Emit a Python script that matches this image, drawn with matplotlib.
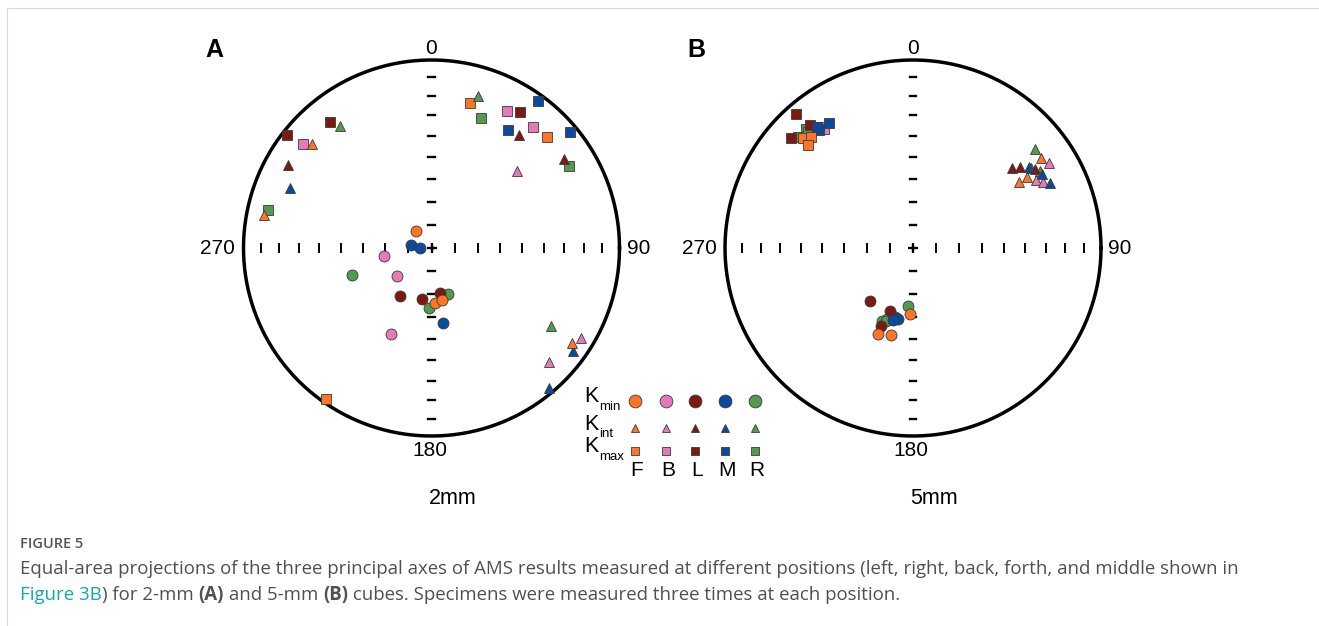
import numpy as np
import matplotlib.pyplot as plt

plt.rcParams['font.family'] = ['Liberation Sans', 'DejaVu Sans']

positions = ['F', 'B', 'L', 'M', 'R']
colors = ['#ff7526', '#e47ab8', '#7c1a12', '#0b4a9f', '#519a4f']
draw_order = [1, 4, 2, 3, 0]  # B, R, L, M, F

# 2-mm cube (A): declination / inclination (deg), three runs per position F, B, L, M, R
a_kmax_dec = [[15, 46, 215], [309, 29, 40], [321, 308, 33], [36, 33, 50], [283, 21, 59]]
a_kmax_inc = [[21, 16, 2], [13, 18, 17], [15, 2.5, 15], [4, 26, 4.5], [12, 27, 16]]
a_kint_dec = [[311, 281, 124], [48, 121, 134], [300, 38, 56], [293, 126, 140], [323, 17, 123]]
a_kint_inc = [[17, 10, 10.5], [38.5, 8, 14], [13, 25, 16], [19.5, 8, 3], [20, 16.5, 25]]
a_kmin_dec = [[318, 176, 169], [261, 231, 205], [213, 191, 169], [278, 268, 171], [251, 160, 182]]
a_kmin_inc = [[80, 66, 67], [69, 71, 48], [65, 67.5, 70], [81, 85, 57], [53, 69, 64]]

# 5-mm cube (B)
b_kmax_dec = [[315, 317.5, 314.5], [322, 323, 321], [319, 320, 312], [326, 321.5, 321.5], [318, 314, 318]]
b_kmax_inc = [[18.5, 21, 23], [19.5, 22, 18.5], [6, 16, 14], [21, 21, 19], [16, 16, 18]]
b_kint_dec = [[55, 58, 58], [58, 61, 63], [51, 53, 57], [55, 60, 64.5], [51, 56, 59]]
b_kint_inc = [[18, 29.5, 34], [16, 26, 23.5], [33, 29.5, 23.5], [25.5, 22, 20.5], [17.5, 25, 22]]
b_kmin_dec = [[183, 202, 194], [195, 196, 200], [219, 200, 202], [194, 192, 195.5], [185, 203, 200]]
b_kmin_inc = [[61, 49, 50.5], [59, 58, 57], [60, 61, 53], [58.5, 58.5, 57.5], [64.5, 55.5, 56]]

panels = [
    ('A', '2mm', 431.5, [(a_kmax_dec, a_kmax_inc, 's'), (a_kint_dec, a_kint_inc, '^'), (a_kmin_dec, a_kmin_inc, 'o')]),
    ('B', '5mm', 913.0, [(b_kmax_dec, b_kmax_inc, 's'), (b_kint_dec, b_kint_inc, '^'), (b_kmin_dec, b_kmin_inc, 'o')]),
]
marker_size = {'s': 7.3, '^': 7.4, 'o': 7.9}

W, H = 1319, 626
CY, RAD = 248.0, 188.0


def project(dec, inc):
    # equal-area (Schmidt), lower hemisphere
    d = np.radians(np.asarray(dec, dtype=float))
    r = np.sqrt(2) * np.sin(np.radians(90 - np.asarray(inc, dtype=float)) / 2)
    return r * np.sin(d), r * np.cos(d)


def draw_net(ax):
    t = np.linspace(0, 2 * np.pi, 500)
    ax.plot(np.cos(t), np.sin(t), color='black', lw=2.5, zorder=1)
    for p in range(10, 90, 10):
        r = np.sqrt(2) * np.sin(np.radians(90 - p) / 2)
        for s in (-1, 1):
            ax.plot([s * r, s * r], [-0.019, 0.019], color='black', lw=1.4, zorder=1)
            ax.plot([-0.017, 0.017], [s * r, s * r], color='black', lw=1.7, zorder=1)
    ax.plot(0, 0, marker='+', color='black', ms=7, mew=1.7, zorder=1)
    ax.set_xlim(-1.1, 1.1)
    ax.set_ylim(-1.1, 1.1)
    ax.set_aspect('equal')
    ax.axis('off')


fig = plt.figure(figsize=(W / 100, H / 100), dpi=100)

# overlay in pixel coordinates for labels, legend and caption
ov = fig.add_axes([0, 0, 1, 1])
ov.set_xlim(0, W)
ov.set_ylim(H, 0)
ov.axis('off')

half = 1.1 * RAD
for letter, size_lbl, cx, sets in panels:
    ax = fig.add_axes([(cx - half) / W, (H - CY - half) / H, 2 * half / W, 2 * half / H])
    ax.patch.set_alpha(0)
    draw_net(ax)
    for dec, inc, mk in sets:
        for i in draw_order:
            x, y = project(dec[i], inc[i])
            ax.plot(x, y, ls='none', marker=mk, ms=marker_size[mk], mfc=colors[i],
                    mec='#3a3a3a', mew=0.6, zorder=3)
    ov.text(cx, CY - RAD - 12, '0', ha='center', va='center', fontsize=15)
    ov.text(cx - 2, CY + RAD + 14, '180', ha='center', va='center', fontsize=15)
    ov.text(cx - RAD - 26, CY, '270', ha='center', va='center', fontsize=15)
    ov.text(cx + RAD + 19, CY, '90', ha='center', va='center', fontsize=15)
    ov.text(cx - 217, 50, letter, ha='center', va='center', fontsize=18, fontweight='bold')
    ov.text(cx + 21, 499, size_lbl, ha='center', va='center', fontsize=15.5)

# legend
col_x = [635, 666, 695, 725, 755]
rows = [('min', 'o', 401, 9.2), ('int', '^', 428, 6.4), ('max', 's', 451, 6.2)]
for sub, mk, ry, ms in rows:
    ov.text(598, ry - 4, 'K', ha='right', va='center', fontsize=15.5)
    ov.text(599, ry + 6, sub, ha='left', va='center', fontsize=9.5)
    for i, xx in enumerate(col_x):
        ov.plot(xx, ry, ls='none', marker=mk, ms=ms, mfc=colors[i], mec='#3a3a3a', mew=0.6)
for i, xx in enumerate(col_x):
    ov.text(xx + 2, 471, positions[i], ha='center', va='center', fontsize=15)

# frame lines
ov.plot([7, W], [8, 8], color='#d9d9d9', lw=0.8)
ov.plot([7, 7], [8, H], color='#d9d9d9', lw=0.8)

# caption
cap_font = ['Open Sans', 'DejaVu Sans']
cap_color = '#505050'
renderer = fig.canvas.get_renderer()
ov.text(20, 544, 'FIGURE 5', ha='left', va='center', fontsize=10.5, color='#555555',
        family=cap_font, fontweight='semibold')

line1 = ('Equal-area projections of the three principal axes of AMS results measured at '
         'different positions (left, right, back, forth, and middle shown in')
probe = ov.text(0, 0, line1, fontsize=10, family=cap_font)
w10 = probe.get_window_extent(renderer).width
probe.remove()
cap_size = 10 * 1217 / w10
ov.text(20, 569, line1, ha='left', va='center', fontsize=cap_size, color=cap_color, family=cap_font)


def seg_width(s, weight):
    t1 = ov.text(0, 0, s + '|', fontsize=cap_size, family=cap_font, fontweight=weight)
    t2 = ov.text(0, 0, '|', fontsize=cap_size, family=cap_font, fontweight=weight)
    w = t1.get_window_extent(renderer).width - t2.get_window_extent(renderer).width
    t1.remove()
    t2.remove()
    return w


parts = [('Figure 3B', '#14a5b5', 'normal'), (') for 2-mm ', cap_color, 'normal'),
         ('(A)', cap_color, 'bold'), (' and 5-mm ', cap_color, 'normal'), ('(B)', cap_color, 'bold'),
         (' cubes. Specimens were measured three times at each position.', cap_color, 'normal')]
x0 = 20
for s, c, wgt in parts:
    ov.text(x0, 595, s, ha='left', va='center', fontsize=cap_size, color=c, family=cap_font,
            fontweight=wgt)
    x0 += seg_width(s, wgt)

fig.savefig('out.png', dpi=100)
